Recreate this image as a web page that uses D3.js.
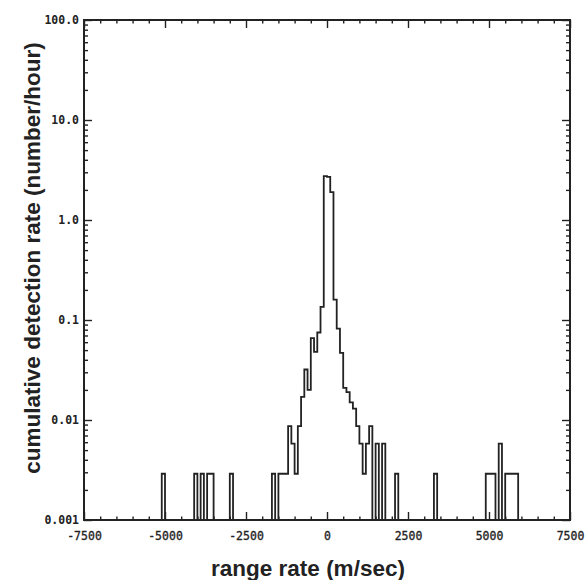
<!DOCTYPE html>
<html>
<head>
<meta charset="utf-8">
<script src="https://cdn.jsdelivr.net/npm/d3@7"></script>
<style>
  body { margin: 0; background: #fff; }
  .tick text { font-family: "DejaVu Sans Mono", monospace; fill: #222; }
</style>
</head>
<body>
<svg id="chart" width="586" height="580"></svg>
<script>
// 100 m/s bins: left edge of each listed bin and its rate (number/hour)
const binWidth = 100;
const binLeft = [-5100, -4100, -4000, -3900, -3800, -3700, -3600, -3000,
  -1700, -1600, -1500, -1400, -1300, -1200, -1100, -1000, -900, -800, -700, -600,
  -500, -400, -300, -200, -100, 0, 100, 200, 300, 400, 500, 600, 700, 800, 900,
  1000, 1100, 1200, 1300, 1400, 1500, 1600, 1700,
  2100, 3300, 4900, 5000, 5100, 5200, 5300, 5400, 5500, 5600, 5700, 5800];
const binRate = [0.0029, 0.0029, 0, 0.0029, 0, 0.0029, 0.0029, 0.0029,
  0.0029, 0, 0.0029, 0.0029, 0.0029, 0.0087, 0.0058, 0.0029, 0.0087, 0.017, 0.032, 0.020,
  0.066, 0.048, 0.075, 0.135, 2.75, 2.7, 1.9, 0.16, 0.082, 0.047, 0.021, 0.019, 0.015, 0.013, 0.0087,
  0.0058, 0.0029, 0.0058, 0.0087, 0, 0.0058, 0, 0.0058,
  0.0029, 0.0029, 0.0029, 0.0029, 0.0029, 0, 0.0058, 0, 0.0029, 0.0029, 0.0029, 0.0029];

const xTickValues = [-7500, -5000, -2500, 0, 2500, 5000, 7500];
const yTickValues = [100, 10, 1, 0.1, 0.01, 0.001];
const yTickLabels = ['100.0', '10.0', '1.0', '0.1', '0.01', '0.001'];

const svg = d3.select('#chart');
const plot = { left: 84, right: 570, top: 20, bottom: 520 };
const ink = '#222';

const x = d3.scaleLinear().domain([-7500, 7500]).range([plot.left, plot.right]);
const y = d3.scaleLog().domain([0.001, 100]).range([plot.bottom, plot.top]);

// minor ticks
const xMinor = d3.range(-7500, 7501, 500).filter(v => !xTickValues.includes(v));
const yMinor = y.ticks().filter(v => !yTickValues.some(t => Math.abs(t - v) < v * 1e-6));

function tidy(g) {
  g.select('.domain').remove();
  g.selectAll('.tick line').attr('stroke', ink).attr('stroke-width', 1.4);
}

svg.append('g').attr('transform', `translate(0,${plot.bottom})`)
  .call(d3.axisBottom(x).tickValues(xMinor).tickSize(-3.5).tickFormat(''))
  .call(tidy);
svg.append('g').attr('transform', `translate(0,${plot.bottom})`)
  .call(d3.axisBottom(x).tickValues(xTickValues).tickSize(-8).tickPadding(12)
    .tickFormat(d => d))
  .call(tidy)
  .selectAll('text').style('font-size', '11.5px').style('font-weight', 'normal')
  .attr('stroke', ink).attr('stroke-width', 0.3);

svg.append('g').attr('transform', `translate(0,${plot.top})`)
  .call(d3.axisTop(x).tickValues(xMinor).tickSize(-3.5).tickFormat(''))
  .call(tidy);
svg.append('g').attr('transform', `translate(0,${plot.top})`)
  .call(d3.axisTop(x).tickValues(xTickValues).tickSize(-8).tickFormat(''))
  .call(tidy);

svg.append('g').attr('transform', `translate(${plot.left},0)`)
  .call(d3.axisLeft(y).tickValues(yMinor).tickSize(-4).tickFormat(''))
  .call(tidy);
svg.append('g').attr('transform', `translate(${plot.left},0)`)
  .call(d3.axisLeft(y).tickValues(yTickValues).tickSize(-8).tickPadding(5)
    .tickFormat((d, i) => yTickLabels[i]))
  .call(tidy)
  .selectAll('text').style('font-size', '11.5px').style('font-weight', 'bold');

svg.append('g').attr('transform', `translate(${plot.right},0)`)
  .call(d3.axisRight(y).tickValues(yMinor).tickSize(-4).tickFormat(''))
  .call(tidy);
svg.append('g').attr('transform', `translate(${plot.right},0)`)
  .call(d3.axisRight(y).tickValues(yTickValues).tickSize(-8).tickFormat(''))
  .call(tidy);

// frame
svg.append('rect')
  .attr('x', plot.left).attr('y', plot.top)
  .attr('width', plot.right - plot.left).attr('height', plot.bottom - plot.top)
  .attr('fill', 'none').attr('stroke', ink).attr('stroke-width', 2);

// step outline of the histogram, empty bins sit on the 0.001 floor
const floor = 0.001;
const pts = [[-7500, floor]];
let prevEnd = -7500;
binLeft.forEach((s, i) => {
  if (s !== prevEnd) pts.push([prevEnd, floor]);
  pts.push([s, Math.max(binRate[i], floor)]);
  prevEnd = s + binWidth;
});
pts.push([prevEnd, floor], [7500, floor]);

const line = d3.line()
  .x(d => x(d[0]))
  .y(d => y(d[1]))
  .curve(d3.curveStepAfter);

svg.append('path')
  .datum(pts)
  .attr('d', line)
  .attr('fill', 'none')
  .attr('stroke', ink)
  .attr('stroke-width', 1.8);

// axis titles
svg.append('text')
  .attr('x', 308).attr('y', 576)
  .attr('text-anchor', 'middle')
  .style('font-family', '"Liberation Sans", Arial, sans-serif')
  .style('font-weight', 'bold').style('font-size', '22.5px')
  .style('fill', ink)
  .text('range rate (m/sec)');

svg.append('text')
  .attr('transform', 'translate(40,258) rotate(-90)')
  .attr('text-anchor', 'middle')
  .style('font-family', '"Liberation Sans", Arial, sans-serif')
  .style('font-weight', 'bold').style('font-size', '22.5px')
  .style('fill', ink)
  .text('cumulative detection rate (number/hour)');
</script>
</body>
</html>
